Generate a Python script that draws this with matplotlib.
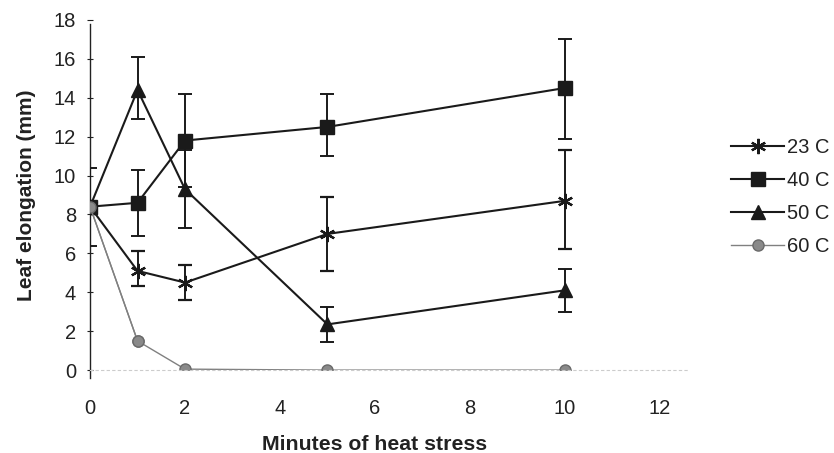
import matplotlib
matplotlib.use("Agg")
import matplotlib.pyplot as plt
from matplotlib.lines import Line2D

plt.rcParams['font.family'] = ['Liberation Sans', 'DejaVu Sans']

minutes = [0, 1, 2, 5, 10]
labels = ["23 C", "40 C", "50 C", "60 C"]

y23 = [8.4, 5.1, 4.5, 7.0, 8.7]
e23_up = [0, 1.0, 0.9, 1.9, 2.6]
e23_dn = [0, 0.8, 0.9, 1.9, 2.5]

y40 = [8.4, 8.6, 11.8, 12.5, 14.5]
e40_up = [2.0, 1.7, 2.4, 1.7, 2.5]
e40_dn = [2.0, 1.7, 2.4, 1.5, 2.6]

y50 = [8.4, 14.4, 9.3, 2.35, 4.1]
e50_up = [0, 1.7, 2.0, 0.9, 1.1]
e50_dn = [0, 1.5, 2.0, 0.9, 1.1]

y60 = [8.4, 1.5, 0.05, 0.0, 0.0]

xticks = [0, 2, 4, 6, 8, 10, 12]
yticks = [0, 2, 4, 6, 8, 10, 12, 14, 16, 18]

DARK = '#1a1a1a'
GRAY_LINE = '#808080'
GRAY_FILL = '#8a8a8a'
GRAY_EDGE = '#6a6a6a'

fig = plt.figure(figsize=(8.34, 4.53), dpi=100)
ax = fig.add_axes([0.108, 0.183, 0.683, 0.773])

common = dict(color=DARK, lw=1.5, capsize=5, elinewidth=1.4, capthick=1.4)
m23 = dict(marker=(6, 2, 0), ms=11, mew=1.6)
m40 = dict(marker='s', ms=10)
m50 = dict(marker='^', ms=10)
m60 = dict(marker='o', ms=8, mfc=GRAY_FILL, mec=GRAY_EDGE)

ax.plot(minutes, y60, color=GRAY_LINE, lw=1.0, zorder=2, **m60)
ax.errorbar(minutes, y23, yerr=[e23_dn, e23_up], zorder=3, **m23, **common)
ax.errorbar(minutes, y40, yerr=[e40_dn, e40_up], zorder=3, **m40, **common)
ax.errorbar(minutes, y50, yerr=[e50_dn, e50_up], zorder=3, **m50, **common)
ax.plot(minutes[:2], y60[:2], color=GRAY_LINE, lw=1.0, zorder=4, **m60)

ax.set_xlim(0, 12)
ax.set_ylim(0, 18)
ax.set_xticks(xticks)
ax.set_yticks(yticks)
ax.tick_params(axis='both', labelsize=14.5, colors='#222222')
ax.tick_params(axis='x', length=0, pad=21)
ax.tick_params(axis='y', length=4, direction='inout', pad=8)

for s in ['top', 'right']:
    ax.spines[s].set_visible(False)
ax.spines['left'].set_color('#222222')
ax.spines['left'].set_linewidth(1.0)
ax.spines['left'].set_bounds(-0.4, 17.8)
ax.spines['bottom'].set_color('#cccccc')
ax.spines['bottom'].set_linewidth(0.8)
ax.spines['bottom'].set_linestyle((0, (2, 3)))
ax.spines['bottom'].set_bounds(0, 12.6)
for sp in ax.spines.values():
    sp.set_clip_on(False)

ax.set_xlabel("Minutes of heat stress", fontsize=15.3, fontweight='bold',
              color='#222222', labelpad=12)
ax.set_ylabel("Leaf elongation (mm)", fontsize=15, fontweight='bold',
              color='#222222', labelpad=13)

handles = [
    Line2D([], [], color=DARK, lw=1.5, **m23),
    Line2D([], [], color=DARK, lw=1.5, **m40),
    Line2D([], [], color=DARK, lw=1.5, **m50),
    Line2D([], [], color=GRAY_LINE, lw=1.0, **m60),
]
leg = ax.legend(handles, labels, loc='center left', bbox_to_anchor=(1.126, 0.494),
                frameon=False, fontsize=14.5, handlelength=2.6,
                handletextpad=0.15, labelspacing=0.7, borderpad=0,
                borderaxespad=0)
for t in leg.get_texts():
    t.set_color('#222222')

fig.savefig("out.png", dpi=100)
